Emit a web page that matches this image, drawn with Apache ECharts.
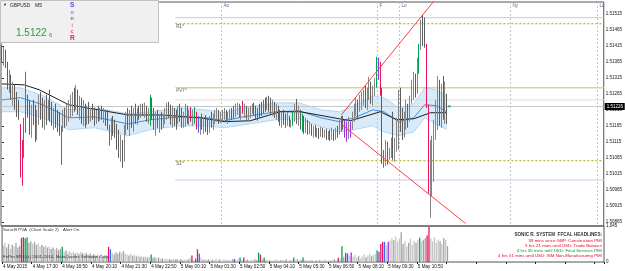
<!DOCTYPE html>
<html>
<head>
<meta charset="utf-8">
<script src="https://cdn.jsdelivr.net/npm/echarts@6/dist/echarts.min.js"></script>
<style>
html, body { margin: 0; padding: 0; background: #fff; }
#chart { width: 625px; height: 271px; }
</style>
</head>
<body>
<div id="chart"></div>
<script>
// GBPUSD M5, bars from 4 May 2015 16:10, one category per 5 minutes
const timeLabels = ['4 May 2015', '4 May 17:30', '4 May 18:50', '4 May 20:10', '4 May 21:30', '4 May 22:50',
  '5 May 00:10', '5 May 01:30', '5 May 02:50', '5 May 04:10', '5 May 05:30', '5 May 06:50',
  '5 May 08:10', '5 May 09:30', '5 May 10:50'];

const opens = [1.51403,1.51371,1.51396,1.51359,1.51293,1.51315,1.51259,1.51284,1.51231,1.51209,
1.51165,1.51009,1.51090,1.51153,1.51259,1.51215,1.51159,1.51209,1.51190,1.51137,
1.51190,1.51240,1.51215,1.51178,1.51231,1.51199,1.51221,1.51209,1.51184,1.51199,
1.51178,1.51165,1.51059,1.51159,1.51199,1.51184,1.51215,1.51231,1.51246,1.51262,
1.51246,1.51271,1.51221,1.51246,1.51199,1.51221,1.51178,1.51209,1.51196,1.51215,
1.51203,1.51190,1.51209,1.51196,1.51215,1.51203,1.51209,1.51209,1.51159,1.51121,
1.51168,1.51153,1.51140,1.51106,1.51090,1.51121,1.51059,1.51153,1.51190,1.51168,
1.51199,1.51184,1.51209,1.51190,1.51215,1.51203,1.51221,1.51209,1.51228,1.51196,
1.51178,1.51253,1.51209,1.51168,1.51190,1.51171,1.51184,1.51165,1.51190,1.51209,
1.51228,1.51215,1.51184,1.51209,1.51190,1.51171,1.51209,1.51196,1.51178,1.51190,
1.51215,1.51190,1.51221,1.51184,1.51215,1.51178,1.51165,1.51153,1.51171,1.51159,
1.51178,1.51159,1.51146,1.51184,1.51171,1.51190,1.51196,1.51209,1.51184,1.51196,
1.51203,1.51209,1.51190,1.51199,1.51209,1.51196,1.51215,1.51209,1.51231,1.51203,
1.51240,1.51209,1.51221,1.51196,1.51209,1.51209,1.51228,1.51209,1.51196,1.51209,
1.51221,1.51209,1.51234,1.51221,1.51246,1.51228,1.51215,1.51234,1.51203,1.51215,
1.51190,1.51178,1.51196,1.51184,1.51171,1.51190,1.51162,1.51181,1.51196,1.51221,
1.51190,1.51209,1.51165,1.51184,1.51153,1.51171,1.51146,1.51165,1.51140,1.51153,
1.51140,1.51146,1.51134,1.51153,1.51137,1.51146,1.51131,1.51140,1.51124,1.51149,
1.51124,1.51149,1.51143,1.51153,1.51184,1.51178,1.51168,1.51128,1.51171,1.51153,
1.51196,1.51221,1.51240,1.51215,1.51246,1.51253,1.51262,1.51240,1.51259,1.51296,
1.51253,1.51271,1.51290,1.51346,1.51328,1.51278,1.51059,1.51043,1.51096,1.51065,
1.51084,1.51106,1.51090,1.51109,1.51159,1.51234,1.51184,1.51146,1.51171,1.51215,
1.51196,1.51246,1.51290,1.51321,1.51271,1.51334,1.51409,1.51471,1.51434,1.51418,
1.51224,1.50978,1.51043,1.51090,1.51153,1.51215,1.51271,1.51196,1.51246,1.51215,
1.51259];

const closes = [1.51371,1.51396,1.51359,1.51293,1.51315,1.51259,1.51284,1.51231,1.51209,1.51190,
1.51009,1.51090,1.51168,1.51309,1.51215,1.51159,1.51209,1.51190,1.51137,1.51190,
1.51240,1.51215,1.51178,1.51231,1.51199,1.51221,1.51209,1.51184,1.51199,1.51178,
1.51165,1.51153,1.51159,1.51199,1.51184,1.51215,1.51231,1.51246,1.51262,1.51246,
1.51271,1.51221,1.51246,1.51199,1.51221,1.51178,1.51209,1.51196,1.51215,1.51203,
1.51190,1.51209,1.51196,1.51215,1.51203,1.51209,1.51184,1.51159,1.51115,1.51168,
1.51153,1.51140,1.51106,1.51090,1.51121,1.51059,1.51153,1.51190,1.51168,1.51199,
1.51184,1.51209,1.51190,1.51215,1.51203,1.51221,1.51209,1.51228,1.51196,1.51209,
1.51253,1.51209,1.51168,1.51190,1.51171,1.51184,1.51165,1.51190,1.51209,1.51228,
1.51215,1.51184,1.51209,1.51190,1.51171,1.51209,1.51196,1.51178,1.51190,1.51215,
1.51190,1.51203,1.51184,1.51199,1.51178,1.51165,1.51153,1.51171,1.51159,1.51178,
1.51159,1.51146,1.51184,1.51171,1.51190,1.51196,1.51209,1.51184,1.51196,1.51203,
1.51209,1.51190,1.51199,1.51209,1.51196,1.51215,1.51221,1.51231,1.51203,1.51215,
1.51209,1.51221,1.51196,1.51209,1.51215,1.51228,1.51209,1.51196,1.51209,1.51221,
1.51209,1.51234,1.51221,1.51246,1.51228,1.51215,1.51234,1.51203,1.51215,1.51190,
1.51178,1.51196,1.51184,1.51171,1.51190,1.51171,1.51181,1.51196,1.51221,1.51190,
1.51209,1.51165,1.51184,1.51153,1.51171,1.51146,1.51165,1.51140,1.51153,1.51140,
1.51146,1.51134,1.51153,1.51137,1.51146,1.51131,1.51140,1.51124,1.51149,1.51124,
1.51149,1.51140,1.51171,1.51190,1.51165,1.51134,1.51121,1.51178,1.51140,1.51196,
1.51221,1.51240,1.51215,1.51246,1.51253,1.51265,1.51240,1.51259,1.51296,1.51253,
1.51271,1.51303,1.51346,1.51328,1.51278,1.51059,1.51043,1.51096,1.51065,1.51084,
1.51106,1.51090,1.51109,1.51159,1.51234,1.51184,1.51146,1.51171,1.51215,1.51196,
1.51246,1.51290,1.51321,1.51271,1.51346,1.51409,1.51471,1.51434,1.51421,1.51231,
1.50978,1.51043,1.51090,1.51153,1.51215,1.51271,1.51196,1.51246,1.51215,1.51259,
1.51226];

const lows = [1.51362,1.51353,1.51346,1.51278,1.51268,1.51246,1.51228,1.51215,1.51193,1.51184,
1.51003,1.50978,1.51065,1.51143,1.51190,1.51137,1.51128,1.51168,1.51115,1.51121,
1.51168,1.51184,1.51159,1.51153,1.51168,1.51184,1.51178,1.51165,1.51153,1.51159,
1.51146,1.51134,1.51043,1.51146,1.51159,1.51165,1.51178,1.51190,1.51196,1.51209,
1.51215,1.51199,1.51184,1.51171,1.51165,1.51159,1.51168,1.51171,1.51178,1.51184,
1.51165,1.51171,1.51178,1.51181,1.51184,1.51174,1.51165,1.51153,1.51103,1.51121,
1.51134,1.51128,1.51090,1.51065,1.51053,1.51034,1.51053,1.51137,1.51153,1.51134,
1.51159,1.51146,1.51171,1.51168,1.51184,1.51190,1.51196,1.51190,1.51178,1.51171,
1.51165,1.51184,1.51153,1.51134,1.51159,1.51143,1.51153,1.51159,1.51171,1.51184,
1.51190,1.51168,1.51159,1.51165,1.51153,1.51171,1.51178,1.51159,1.51159,1.51162,
1.51171,1.51168,1.51178,1.51165,1.51171,1.51153,1.51143,1.51137,1.51153,1.51140,
1.51146,1.51137,1.51143,1.51159,1.51153,1.51171,1.51178,1.51171,1.51174,1.51178,
1.51184,1.51178,1.51171,1.51181,1.51184,1.51187,1.51193,1.51199,1.51190,1.51184,
1.51203,1.51190,1.51184,1.51178,1.51190,1.51203,1.51196,1.51184,1.51181,1.51190,
1.51196,1.51203,1.51209,1.51215,1.51209,1.51203,1.51196,1.51190,1.51184,1.51178,
1.51165,1.51159,1.51168,1.51159,1.51165,1.51162,1.51159,1.51165,1.51178,1.51171,
1.51165,1.51153,1.51146,1.51140,1.51143,1.51137,1.51140,1.51134,1.51128,1.51131,
1.51128,1.51124,1.51131,1.51128,1.51128,1.51121,1.51121,1.51118,1.51121,1.51118,
1.51121,1.51128,1.51137,1.51146,1.51153,1.51128,1.51115,1.51124,1.51128,1.51153,
1.51178,1.51196,1.51190,1.51209,1.51215,1.51228,1.51221,1.51215,1.51246,1.51234,
1.51228,1.51259,1.51284,1.51309,1.51259,1.51046,1.51034,1.51040,1.51043,1.51059,
1.51065,1.51059,1.51053,1.51084,1.51090,1.51146,1.51121,1.51128,1.51153,1.51159,
1.51178,1.51234,1.51246,1.51253,1.51265,1.51328,1.51403,1.51415,1.51409,1.51221,
1.50953,1.50878,1.50946,1.50990,1.51121,1.51153,1.51165,1.51159,1.51184,1.51171,
1.51171];

const highs = [1.51418,1.51412,1.51403,1.51365,1.51340,1.51325,1.51303,1.51293,1.51271,1.51246,
1.51171,1.51121,1.51190,1.51334,1.51262,1.51246,1.51231,1.51246,1.51231,1.51215,
1.51262,1.51271,1.51253,1.51246,1.51262,1.51246,1.51278,1.51240,1.51221,1.51234,
1.51215,1.51209,1.51165,1.51215,1.51221,1.51234,1.51246,1.51262,1.51271,1.51284,
1.51293,1.51278,1.51259,1.51253,1.51246,1.51234,1.51228,1.51240,1.51221,1.51234,
1.51221,1.51215,1.51228,1.51221,1.51228,1.51221,1.51215,1.51215,1.51168,1.51190,
1.51196,1.51184,1.51171,1.51153,1.51137,1.51121,1.51168,1.51209,1.51221,1.51215,
1.51228,1.51221,1.51234,1.51221,1.51228,1.51234,1.51234,1.51237,1.51228,1.51221,
1.51262,1.51253,1.51221,1.51209,1.51215,1.51199,1.51209,1.51203,1.51221,1.51237,
1.51240,1.51231,1.51228,1.51221,1.51215,1.51228,1.51234,1.51221,1.51209,1.51234,
1.51228,1.51215,1.51224,1.51215,1.51224,1.51209,1.51196,1.51190,1.51203,1.51190,
1.51199,1.51190,1.51196,1.51209,1.51203,1.51215,1.51221,1.51215,1.51209,1.51215,
1.51221,1.51215,1.51209,1.51218,1.51221,1.51228,1.51234,1.51237,1.51234,1.51228,
1.51243,1.51234,1.51228,1.51221,1.51228,1.51234,1.51237,1.51228,1.51221,1.51234,
1.51240,1.51246,1.51253,1.51256,1.51259,1.51253,1.51246,1.51240,1.51234,1.51228,
1.51215,1.51209,1.51215,1.51203,1.51209,1.51196,1.51184,1.51209,1.51234,1.51249,
1.51228,1.51215,1.51203,1.51196,1.51190,1.51184,1.51178,1.51171,1.51165,1.51168,
1.51159,1.51159,1.51162,1.51159,1.51153,1.51156,1.51149,1.51153,1.51159,1.51153,
1.51159,1.51165,1.51184,1.51196,1.51196,1.51184,1.51178,1.51193,1.51178,1.51209,
1.51234,1.51253,1.51246,1.51262,1.51271,1.51278,1.51290,1.51284,1.51318,1.51303,
1.51290,1.51315,1.51381,1.51378,1.51365,1.51284,1.51090,1.51121,1.51115,1.51096,
1.51128,1.51209,1.51128,1.51190,1.51278,1.51284,1.51221,1.51209,1.51246,1.51234,
1.51259,1.51309,1.51334,1.51328,1.51378,1.51421,1.51496,1.51512,1.51503,1.51421,
1.51231,1.51121,1.51134,1.51184,1.51246,1.51321,1.51309,1.51296,1.51321,1.51303,
1.51265];

const volumes = [480,560,420,520,380,500,450,560,420,470,
700,720,690,720,560,600,520,580,500,540,
460,500,440,480,420,450,380,420,360,400,
340,380,440,300,340,280,320,260,300,250,
280,240,300,260,230,270,210,250,200,230,
190,220,180,210,170,200,190,440,370,260,
220,280,240,300,260,320,250,220,190,240,
180,210,160,190,150,170,140,160,130,150,
220,120,140,100,130,90,110,80,100,70,
90,60,80,70,90,60,80,50,70,60,
80,120,190,60,100,370,240,120,60,90,
50,80,40,70,60,100,50,80,40,60,
70,40,60,50,80,90,50,70,130,60,
130,50,70,40,60,50,80,60,275,215,
70,130,50,40,60,30,50,40,70,30,
50,60,40,80,30,50,60,130,50,80,
40,60,130,40,50,30,60,40,30,50,
40,60,30,40,70,30,50,40,60,80,
50,120,100,460,150,270,250,180,275,150,
200,120,180,100,160,220,140,190,230,170,
200,240,340,300,520,585,585,480,585,615,
700,640,740,600,680,860,520,600,460,560,
675,500,620,560,640,705,600,650,700,770,
1015,680,600,720,560,650,600,520,700,640,
460];

// Sonic R PVA colour classes (bar indices)
const greenBars = [12, 13, 32, 80, 104, 128, 138, 141, 157, 162, 183, 202, 225];
const redBars = [10, 11, 57, 102, 105, 130, 139, 181, 204, 205, 229, 230];
const blueBars = [58, 106, 206];
const purpleBars = [125, 185, 186, 188, 203, 208];

// EMA 89 and the 34 EMA "dragon" (high / close / low), read at knots [bar, price]
const ema89 = [[0,1.51296],[12,1.51293],[20,1.51278],[36,1.51231],[68,1.51199],[86,1.51199],[107,1.51190],
  [120,1.51178],[134,1.51181],[150,1.51209],[161,1.51209],[182,1.51187],[188,1.51181],[204,1.51209],
  [213,1.51184],[222,1.51187],[231,1.51206],[240,1.51206]];
const dragonMid = [[0,1.51246],[10,1.51253],[22,1.51231],[36,1.51190],[50,1.51193],[68,1.51171],[80,1.51184],
  [96,1.51193],[110,1.51190],[120,1.51181],[130,1.51193],[148,1.51209],[160,1.51212],[172,1.51190],
  [182,1.51178],[190,1.51190],[200,1.51215],[206,1.51209],[214,1.51178],[222,1.51190],[228,1.51231],
  [234,1.51228],[240,1.51209]];
const dragonHigh = [[0,1.51284],[10,1.51284],[22,1.51259],[36,1.51215],[50,1.51221],[68,1.51203],[80,1.51209],
  [96,1.51221],[110,1.51215],[120,1.51206],[130,1.51221],[148,1.51237],[160,1.51237],[172,1.51215],
  [182,1.51209],[190,1.51228],[200,1.51259],[206,1.51253],[214,1.51221],[222,1.51234],[228,1.51284],
  [234,1.51278],[240,1.51259]];
const dragonLow = [[0,1.51209],[10,1.51209],[22,1.51190],[36,1.51153],[50,1.51159],[68,1.51134],[80,1.51153],
  [96,1.51165],[110,1.51165],[120,1.51159],[130,1.51168],[148,1.51184],[160,1.51187],[172,1.51162],
  [182,1.51146],[190,1.51153],[200,1.51165],[206,1.51146],[214,1.51134],[222,1.51146],[228,1.51190],
  [234,1.51171],[240,1.51153]];

// trend lines [bar, price]
const upperTrend = [[183, 1.51199], [240, 1.51605]];
const lowerTrend = [[183, 1.51170], [250, 1.50860]];

// daily levels, drawn from the start of 5 May
const dayStart = 93.5;
const levelR2 = 1.51503;
const levelR1 = 1.51484;
const levelPivot = 1.51284;
const levelAsk = 1.51246;
const levelS1 = 1.51056;
const levelS2 = 1.50996;
const lastPrice = 1.51226;

// session markers
const sessionNames = ['Ao', 'F', 'Lo', 'Ny', 'Lc'];
const sessionBars = [118, 202, 214, 274, 321];

const priceTicks = [1.51515, 1.51465, 1.51415, 1.51365, 1.51315, 1.51265, 1.51215,
  1.51165, 1.51115, 1.51065, 1.51015, 1.50965, 1.50915, 1.50865];
const volumeMax = 1045;

const headlines = [
  ['39 mins since GBP: Construction PMI', '#e8002a'],
  ['3 hrs 21 mins until USD: Trade Balance', '#e8002a'],
  ['4 hrs 35 mins until USD: Final Services PMI', '#00a020'],
  ['4 hrs 51 mins until USD: ISM Non-Manufacturing PMI', '#e8002a']
];
const clocks = [
  ['19:59', 'Sydney', '#6a6a6a'], ['18:59', 'Tokyo', '#6a6a6a'], ['17:59', 'HongKong', '#6a6a6a'],
  ['12:59', 'Helsinki  (B)', '#1fa04a'], ['11:59', 'Frankfurt  (L,F)', '#1fa04a'],
  ['11:59', 'London  (O+1)', '#1fa04a'], ['06:59', 'NewYork', '#6a6a6a']
];
const infoRows = [['Spread', '1.50'], ['LotPip', '36.20'], ['Range', '157.93'], ['Swaps', '-0.08, -3.12']];

const N = 325;
const Y_MIN = 1.50852, Y_MAX = 1.51552;
const FONT = 'Liberation Sans';
const GREEN = '#00a651', RED = '#e8175d', BLUE = '#3b6cf0', PURPLE = '#9b30e6';

const cats = [];
for (let i = 0; i < N; i++) cats.push(i % 16 === 0 && timeLabels[i / 16] ? timeLabels[i / 16] : '');

function pvaColor(i) {
  if (greenBars.includes(i)) return GREEN;
  if (redBars.includes(i)) return RED;
  if (blueBars.includes(i)) return BLUE;
  if (purpleBars.includes(i)) return PURPLE;
  return null;
}

const candles = opens.map((o, i) => {
  const item = { value: [o, closes[i], lows[i], highs[i]] };
  const c = pvaColor(i);
  if (c) item.itemStyle = { color: c, color0: c, borderColor: c, borderColor0: c };
  return item;
});
const volBars = volumes.map((v, i) => ({
  value: v,
  itemStyle: { color: pvaColor(i) || (closes[i] >= opens[i] ? '#c6c6c6' : '#a2a2a2') }
}));

function hLine(price, color, type, width) {
  return {
    type: 'line', xAxisIndex: 1, yAxisIndex: 0, silent: true, symbol: 'none', z: 3,
    data: [[dayStart, price], [N - 0.5, price]],
    lineStyle: { color: color, type: type, width: width }
  };
}
function curve(points, color, width, z) {
  return {
    type: 'line', xAxisIndex: 1, yAxisIndex: 0, silent: true, symbol: 'none', z: z,
    data: points, lineStyle: { color: color, width: width }
  };
}

const levelLabels = [[dayStart, levelR1, 'R1^'], [dayStart, levelPivot, 'PVT^'], [dayStart, levelS1, 'S1^']];

const chart = echarts.init(document.getElementById('chart'), null, { renderer: 'canvas' });
chart.setOption({
  animation: false,
  backgroundColor: '#ffffff',
  grid: [
    { left: 1, width: 603, top: 2, height: 224, show: true, borderColor: '#555', borderWidth: 1 },
    { left: 1, width: 603, top: 226, height: 36, show: true, borderColor: '#555', borderWidth: 1 }
  ],
  xAxis: [
    { type: 'category', gridIndex: 0, data: cats, show: false },
    { type: 'value', gridIndex: 0, min: -0.5, max: N - 0.5, show: false },
    {
      type: 'category', gridIndex: 1, data: cats,
      axisLine: { show: false },
      axisTick: { show: true, length: 2, interval: (i) => i % 16 === 0, lineStyle: { color: '#222' } },
      axisLabel: {
        interval: (i) => i % 16 === 0, align: 'left', margin: 2,
        fontSize: 4.6, fontFamily: FONT, color: '#111'
      },
      splitLine: { show: false }
    }
  ],
  yAxis: [
    {
      type: 'value', gridIndex: 0, position: 'right', min: Y_MIN, max: Y_MAX, scale: true,
      axisLine: { show: false },
      axisTick: { show: true, length: 2, customValues: priceTicks, lineStyle: { color: '#222' } },
      axisLabel: {
        customValues: priceTicks, formatter: (v) => v.toFixed(5), margin: 2,
        fontSize: 4.5, fontFamily: FONT, color: '#111'
      },
      splitLine: { show: false }
    },
    {
      type: 'value', gridIndex: 1, position: 'right', min: 0, max: volumeMax,
      axisLine: { show: false },
      axisTick: { show: false },
      axisLabel: {
        customValues: [0, volumeMax], margin: 2,
        fontSize: 4.5, fontFamily: FONT, color: '#111'
      },
      splitLine: { show: false }
    }
  ],
  series: [
    {
      // dragon band fill
      type: 'custom', xAxisIndex: 1, yAxisIndex: 0, silent: true, z: 1, clip: true,
      data: [[0, lastPrice]],
      renderItem: (params, api) => {
        const pts = dragonHigh.map(k => api.coord(k))
          .concat(dragonLow.slice().reverse().map(k => api.coord(k)));
        return { type: 'polygon', shape: { points: pts }, style: { fill: '#d9eaf9' } };
      }
    },
    {
      // session separators
      type: 'custom', xAxisIndex: 1, yAxisIndex: 0, silent: true, z: 2,
      data: sessionBars.map((b, k) => [b, k]),
      renderItem: (params, api) => {
        const top = api.coord([api.value(0), Y_MAX]);
        const bot = api.coord([api.value(0), Y_MIN]);
        const x = Math.round(top[0]) + 0.5;
        return {
          type: 'group', children: [
            { type: 'line', shape: { x1: x, y1: top[1], x2: x, y2: bot[1] },
              style: { stroke: '#c4c4c4', lineWidth: 1, lineDash: [2, 2] } },
            { type: 'text', x: x + 2, y: top[1] + 1,
              style: { text: sessionNames[api.value(1)], fill: '#6464aa', font: '4.6px ' + FONT } }
          ]
        };
      }
    },
    hLine(levelR2, '#a6e8a6', 'solid', 1),
    hLine(levelR1, '#a8a000', [2, 2], 1),
    hLine(levelPivot, '#d8d890', 'solid', 1.6),
    hLine(levelAsk, '#dcdcdc', 'solid', 1),
    hLine(levelS1, '#a8a000', [2, 2], 1),
    hLine(levelS2, '#dcdcf4', 'solid', 1.5),
    {
      // current bid line and its price box on the axis
      type: 'custom', xAxisIndex: 1, yAxisIndex: 0, silent: true, z: 3,
      data: [[-0.5, lastPrice]],
      renderItem: (params, api) => {
        const a = api.coord([-0.5, lastPrice]);
        const b = api.coord([N - 0.5, lastPrice]);
        const y = Math.round(a[1]) + 0.5;
        return {
          type: 'group', children: [
            { type: 'line', shape: { x1: a[0], y1: y, x2: b[0], y2: y },
              style: { stroke: '#c8c8c8', lineWidth: 1 } },
            { type: 'rect', shape: { x: b[0] + 1, y: y - 3.5, width: 20, height: 7 },
              style: { fill: '#000' } },
            { type: 'text', x: b[0] + 3, y: y, style: { text: lastPrice.toFixed(5), fill: '#fff',
              font: '4.5px ' + FONT, verticalAlign: 'middle' } }
          ]
        };
      }
    },
    {
      type: 'custom', xAxisIndex: 1, yAxisIndex: 0, silent: true, z: 3,
      data: levelLabels.map((l, k) => [l[0], l[1], k]),
      renderItem: (params, api) => {
        const p = api.coord([api.value(0), api.value(1)]);
        return { type: 'text', x: p[0] + 1, y: p[1] + 1,
          style: { text: levelLabels[api.value(2)][2], fill: '#555', font: '4.5px ' + FONT } };
      }
    },
    curve(dragonHigh, '#a6cff3', 0.8, 4),
    curve(dragonLow, '#a6cff3', 0.8, 4),
    curve(dragonMid, '#3d8fe0', 1, 4),
    curve(ema89, '#1e1e1e', 1, 4),
    {
      type: 'candlestick', xAxisIndex: 0, yAxisIndex: 0, z: 5,
      barWidth: 1.2,
      data: candles,
      itemStyle: {
        color: '#c4c4c4', color0: '#a0a0a0',
        borderColor: '#858585', borderColor0: '#5e5e5e', borderWidth: 1
      }
    },
    curve(upperTrend, '#ff3b3b', 1, 6),
    curve(lowerTrend, '#ff3b3b', 1, 6),
    {
      type: 'scatter', xAxisIndex: 1, yAxisIndex: 0, silent: true, z: 6,
      symbol: 'rect', symbolSize: [3, 2],
      data: [[241.2, lastPrice]], itemStyle: { color: '#00b050' }
    },
    {
      type: 'bar', xAxisIndex: 2, yAxisIndex: 1, barWidth: 1.3, silent: true,
      data: volBars
    }
  ],
  graphic: [
    // instrument info panel
    { type: 'rect', left: 0, top: 0, shape: { width: 158, height: 42 },
      style: { fill: '#f0f0f0', stroke: '#c2c2c2', lineWidth: 1 }, z: 100 },
    { type: 'text', left: 3, top: 3, style: { text: '▼', fill: '#222', font: '4px ' + FONT }, z: 101 },
    { type: 'text', x: 10, y: 2, scaleX: 0.8, style: { text: 'GBPUSD', fill: '#222', font: '6px ' + FONT }, z: 101 },
    { type: 'text', x: 35, y: 2, scaleX: 0.85, style: { text: 'M5', fill: '#222', font: '6px ' + FONT }, z: 101 },
    ...infoRows.map((r, k) => ({ type: 'group', z: 101, children: [
      { type: 'text', x: 14, y: 12 + k * 3.6, style: { text: r[0], fill: '#555', font: '3.6px ' + FONT } },
      { type: 'text', x: 28, y: 12 + k * 3.6, style: { text: r[1], fill: '#555', font: '3.6px ' + FONT } }
    ] })),
    { type: 'text', left: 16, top: 28, style: { text: '1.5122', fill: '#2c9a3c', font: '10px ' + FONT }, z: 101 },
    { type: 'text', left: 49, top: 32, style: { text: '6', fill: '#2c9a3c', font: '6px ' + FONT }, z: 101 },
    { type: 'text', left: 70, top: 2, style: { text: 'S', fill: '#4b4bf0', font: 'bold 6.5px ' + FONT }, z: 101 },
    { type: 'text', left: 70.5, top: 9, style: { text: 'o', fill: '#5f86ee', font: 'bold 5.5px ' + FONT }, z: 101 },
    { type: 'text', left: 70.5, top: 15.5, style: { text: 'n', fill: '#a351dd', font: 'bold 5.5px ' + FONT }, z: 101 },
    { type: 'text', left: 71.5, top: 22, style: { text: 'i', fill: '#e57a96', font: 'bold 5.5px ' + FONT }, z: 101 },
    { type: 'text', left: 70.5, top: 28.5, style: { text: 'c', fill: '#e8485c', font: 'bold 5.5px ' + FONT }, z: 101 },
    { type: 'text', left: 70, top: 35, style: { text: 'R', fill: '#e8204f', font: 'bold 6.5px ' + FONT }, z: 101 },
    ...clocks.map((c, k) => ({ type: 'group', z: 101, children: [
      { type: 'text', x: 85, y: 3 + k * 4.7, style: { text: c[0], fill: '#6a6a6a', font: '3.8px ' + FONT } },
      { type: 'text', x: 100, y: 3 + k * 4.7, style: { text: c[1], fill: c[2], font: '3.8px ' + FONT } }
    ] })),
    // indicator captions in the volume window
    { type: 'text', left: 3, top: 228, style: { text: 'SonicR PVA  (Chart Scale 2)', fill: '#333', font: '4.4px ' + FONT }, z: 101 },
    { type: 'text', left: 63, top: 228, style: { text: 'Alert On', fill: '#333', font: '4.4px ' + FONT }, z: 101 },
    { type: 'text', left: 3, top: 255, style: { text: 'FxPro MT4 (c) 2001-2014, MetaQuotes Software Corp.', fill: '#333', font: '4.4px ' + FONT }, z: 101 },
    { type: 'text', right: 23, top: 232, style: { text: 'SONIC R. SYSTEM  FFCAL HEADLINES:', fill: '#333', font: 'bold 4.6px ' + FONT }, z: 101 },
    ...headlines.map((h, k) => ({ type: 'text', right: 23, top: 239 + k * 5,
      style: { text: h[0], fill: h[1], font: '4.4px ' + FONT }, z: 101 }))
  ]
});
</script>
</body>
</html>
